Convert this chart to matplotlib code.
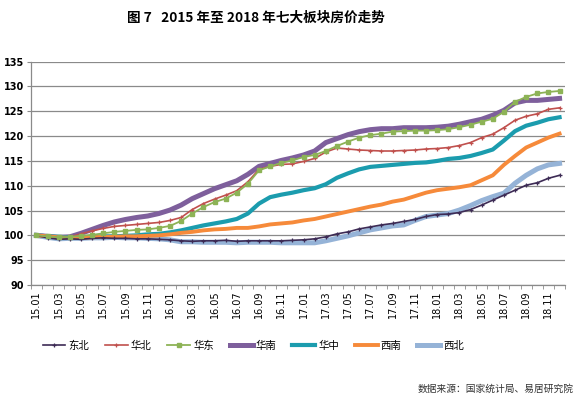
import matplotlib
matplotlib.use("Agg")
import matplotlib.pyplot as plt
import numpy as np

plt.rcParams['font.family'] = ['Noto Sans CJK SC', 'DejaVu Sans']

# 月份 15.01 -> 18.12
months = [f"{y}.{m:02d}" for y in (15, 16, 17, 18) for m in range(1, 13)]

dongbei = [100, 99.5, 99.2, 99.3, 99.2, 99.4, 99.5, 99.4, 99.4, 99.3, 99.3, 99.2,
           99.1, 98.9, 98.8, 98.9, 98.9, 99.0, 98.8, 98.9, 98.9, 98.9, 98.9, 99.0,
           99.1, 99.3, 99.7, 100.3, 100.7, 101.3, 101.7, 102.1, 102.4, 102.8, 103.2, 103.8,
           104.2, 104.3, 104.6, 105.2, 106.1, 107.1, 108.1, 109.1, 110.1, 110.6, 111.5, 112.1]
huabei = [100, 99.8, 99.6, 99.7, 100.3, 100.9, 101.4, 101.8, 102.0, 102.2, 102.4, 102.6,
          103.0, 103.6, 105.2, 106.4, 107.3, 108.1, 109.0, 110.8, 113.3, 113.9, 114.3, 114.4,
          114.9, 115.5, 116.8, 117.6, 117.4, 117.2, 117.1, 117.0, 117.0, 117.1, 117.2, 117.4,
          117.5, 117.7, 118.1, 118.7, 119.7, 120.4, 121.7, 123.2, 124.0, 124.5, 125.4, 125.7]
huadong = [100, 99.8, 99.6, 99.7, 99.9, 100.1, 100.4, 100.7, 100.9, 101.1, 101.2, 101.5,
           101.9, 102.9, 104.4, 105.7, 106.7, 107.4, 108.6, 110.4, 113.1, 113.9, 114.6, 115.1,
           115.8, 116.2, 117.0, 118.0, 118.9, 119.7, 120.2, 120.5, 120.9, 121.0, 121.1, 121.1,
           121.2, 121.4, 121.8, 122.3, 122.9, 123.5, 124.9, 126.9, 127.9, 128.6, 128.9, 129.1]
huanan = [100, 99.8, 99.6, 99.7, 100.4, 101.2, 102.0, 102.7, 103.2, 103.6, 103.9, 104.4,
          105.1, 106.1, 107.4, 108.4, 109.4, 110.2, 111.0, 112.3, 113.9, 114.5, 115.1, 115.6,
          116.2, 117.0, 118.7, 119.5, 120.3, 120.9, 121.3, 121.5, 121.5, 121.7, 121.7, 121.7,
          121.8, 122.0, 122.4, 122.9, 123.4, 124.2, 125.2, 126.7, 127.2, 127.2, 127.4, 127.6]
huazhong = [100, 99.8, 99.7, 99.6, 99.6, 99.7, 99.8, 99.8, 99.9, 100.0, 100.2, 100.3,
            100.6, 101.0, 101.5, 102.0, 102.4, 102.8, 103.3, 104.4, 106.4, 107.7, 108.2, 108.6,
            109.1, 109.5, 110.3, 111.6, 112.5, 113.3, 113.8, 114.0, 114.2, 114.4, 114.6, 114.7,
            115.0, 115.4, 115.6, 116.0, 116.6, 117.3, 119.1, 121.0, 122.1, 122.7, 123.4, 123.8]
xinan = [100, 99.8, 99.6, 99.5, 99.5, 99.6, 99.7, 99.7, 99.8, 99.8, 99.9, 100.0,
         100.2, 100.5, 100.7, 101.0, 101.2, 101.3, 101.5, 101.5, 101.8, 102.2, 102.4, 102.6,
         103.0, 103.3, 103.8, 104.3, 104.8, 105.3, 105.8, 106.2, 106.8, 107.2, 107.9, 108.6,
         109.1, 109.4, 109.7, 110.1, 111.1, 112.1, 114.2, 116.0, 117.7, 118.7, 119.7, 120.5]
xibei = [100, 99.6, 99.3, 99.4, 99.4, 99.5, 99.5, 99.6, 99.5, 99.5, 99.4, 99.3,
         99.1, 98.7, 98.7, 98.6, 98.6, 98.6, 98.5, 98.6, 98.6, 98.6, 98.5, 98.5,
         98.5, 98.5, 98.9, 99.4, 99.9, 100.5, 101.1, 101.5, 101.9, 102.1, 103.0, 103.8,
         104.1, 104.4, 105.1, 106.0, 107.0, 107.8, 108.5, 110.5, 112.1, 113.4, 114.2, 114.5]

names = ['东北', '华北', '华东', '华南', '华中', '西南', '西北']

fig = plt.figure(figsize=(5.82, 3.98), dpi=100)
ax = fig.add_axes([0.053, 0.284, 0.918, 0.561])

x = np.arange(len(months))
ax.plot(x, huanan, color='#7E5F9C', lw=3.6, label='华南', zorder=3)
ax.plot(x, xibei, color='#95B3D7', lw=3.6, label='西北', zorder=3)
ax.plot(x, huazhong, color='#1B9CAE', lw=3.0, label='华中', zorder=3)
ax.plot(x, xinan, color='#F68A3A', lw=2.8, label='西南', zorder=3)
ax.plot(x, dongbei, color='#3D2B55', lw=1.2, marker='+', ms=3, mew=0.9, label='东北', zorder=4)
ax.plot(x, huabei, color='#C0504D', lw=1.2, marker='+', ms=3, mew=0.9, label='华北', zorder=4)
ax.plot(x, huadong, color='#8DB356', lw=1.3, marker='s', ms=2.8, label='华东', zorder=4)

ax.set_xlim(-0.5, len(months) - 0.5)
ax.set_ylim(90, 135)
ax.set_yticks(np.arange(90, 136, 5))
ax.grid(axis='y', color='#8a8a8a', lw=0.9)
ax.set_axisbelow(True)
for s in ['top', 'right']:
    ax.spines[s].set_visible(False)
for s in ['left', 'bottom']:
    ax.spines[s].set_color('#8a8a8a')
    ax.spines[s].set_linewidth(0.9)

ax.set_xticks(x[::2])
ax.set_xticklabels(months[::2], rotation=90, fontsize=7, family='DejaVu Sans')
ax.set_xticks(np.arange(-0.5, len(months), 1), minor=True)
ax.tick_params(axis='x', which='major', length=0, pad=4)
ax.tick_params(axis='x', which='minor', length=3, color='#8a8a8a')
ax.tick_params(axis='y', length=3, color='#8a8a8a', labelsize=7, pad=2)
for lab in ax.get_yticklabels():
    lab.set_fontweight('bold')
    lab.set_family('DejaVu Sans')

handles, labels = ax.get_legend_handles_labels()
order = [labels.index(n) for n in names]
fig.legend([handles[i] for i in order], names, loc='center', ncol=7,
           bbox_to_anchor=(0.435, 0.131), frameon=False, fontsize=7.5,
           handlelength=2.2, handletextpad=0.3, columnspacing=1.5)

fig.text(0.44, 0.955, '图 7   2015 年至 2018 年七大板块房价走势',
         ha='center', va='center', fontsize=9.8, fontweight='bold')
fig.text(0.985, 0.023, '数据来源：国家统计局、易居研究院',
         ha='right', va='center', fontsize=7, color='#333333')

fig.savefig('out.png', dpi=100)
